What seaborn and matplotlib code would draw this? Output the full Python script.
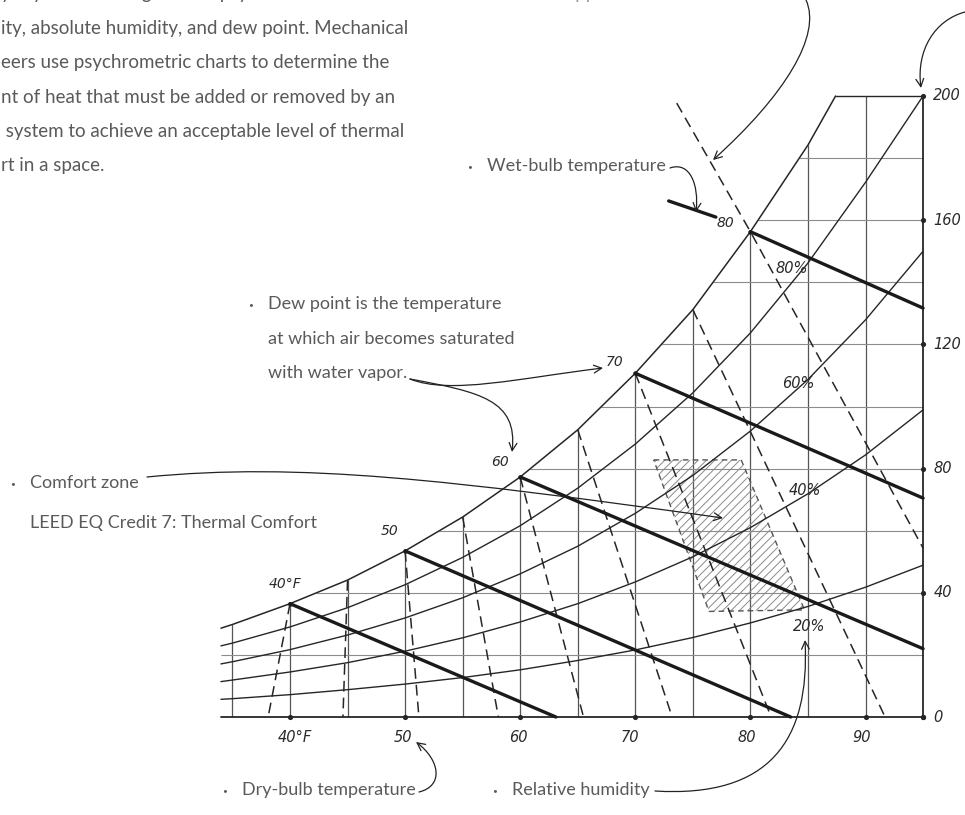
import matplotlib
matplotlib.use("Agg")
import matplotlib.pyplot as plt
from matplotlib import font_manager
from matplotlib.patches import FancyArrowPatch, Polygon
from matplotlib.path import Path
import seaborn as sns
import pandas as pd

# ---------------- data ----------------
db_temps = [34, 35, 40, 45, 50, 55, 60, 65, 70, 75, 80, 85, 90, 95]
sat_temps = [34, 35, 40, 45, 50, 55, 60, 65, 70, 75, 80, 85, 87.4]
sat_w = [28.6, 29.8, 36.5, 44.1, 53.5, 64.4, 77.3, 92.5, 110.7, 131.2, 156.3, 184.2, 200]
rh80 = [22.9, 23.8, 29.0, 35.2, 42.6, 51.4, 61.6, 73.7, 87.9, 104.4, 123.7, 146.2, 172.2, 200]
rh60 = [17.1, 17.8, 21.7, 26.4, 31.9, 38.4, 46.1, 55.0, 65.6, 77.8, 92.1, 108.7, 127.9, 150.0]
rh40 = [11.4, 11.9, 14.5, 17.5, 21.2, 25.5, 30.6, 36.5, 43.5, 51.6, 61.0, 71.9, 84.4, 98.9]
rh20 = [5.7, 5.9, 7.2, 8.8, 10.6, 12.7, 15.2, 18.2, 21.6, 25.6, 30.3, 35.6, 41.8, 48.9]
rh_labels = ["80%", "60%", "40%", "20%"]

# bold wet-bulb lines (start on saturation curve, end on axis)
wb_start_t = [40, 50, 60, 70, 80]
wb_start_w = [36.5, 53.5, 77.3, 110.7, 156.3]
wb_end_t = [63.1, 83.5, 95, 95, 95]
wb_end_w = [0, 0, 22.0, 70.5, 131.7]
wb_labels = ["40°F", "50", "60", "70", "80"]
wb_stub_t = [72.9, 77.0]
wb_stub_w = [166.2, 161.0]

# dashed lines
dash_top_t = [40, 45, 50, 55, 60, 65, 70, 75]
dash_top_w = [36.5, 44.1, 53.5, 64.4, 77.3, 92.5, 110.7, 131.2]
dash_bot_t = [38.1, 44.6, 51.2, 58.1, 65.5, 73.2, 81.8, 91.7]
dash_bot_w = [0, 0, 0, 0, 0, 0, 0, 0]
dash80_t = [73.6, 80, 95]
dash80_w = [197.7, 156.3, 54.4]

# comfort zone
cz_t = [71.6, 79.2, 84.7, 76.4]
cz_w = [82.8, 82.8, 34.5, 34.0]

# grid and ticks
vgrid_t = [35, 40, 45, 50, 55, 60, 65, 70, 75, 80, 85, 90]
hgrid_w = [20, 40, 60, 80, 100, 120, 140, 160, 180]
x_ticks = [40, 50, 60, 70, 80, 90]
x_tick_labels = ["40°F", "50", "60", "70", "80", "90"]
y_ticks = [0, 40, 80, 120, 160, 200]
y_tick_labels = ["0", "40", "80", "120", "160", "200"]
T_MIN, T_MAX, W_TOP = 34, 95, 200

# ---------------- style ----------------
sns.set_theme(style="white")
avail = {f.name for f in font_manager.fontManager.ttflist}
hand = [f for f in ["Lato", "Roboto", "Open Sans"] if f in avail]
plt.rcParams["font.family"] = hand + ["DejaVu Sans"]
plt.rcParams["hatch.linewidth"] = 0.7
plt.rcParams["hatch.color"] = "#8a8a8a"

W_PX, H_PX = 965, 815
fig = plt.figure(figsize=(W_PX / 100, H_PX / 100), dpi=100)
ax = fig.add_axes([0, 0, 1, 1])
PXF = 11.51   # px per degF
PXW = 3.105   # px per grain
ax.set_xlim(40 - 290 / PXF, 40 + (W_PX - 290) / PXF)
ax.set_ylim(-(H_PX - 717) / PXW, 717 / PXW)
ax.axis("off")

INK = "#262626"
GRID = "#8c8c8c"
TXT = "#5a5a5a"

# grid
ax.vlines(vgrid_t, 0, W_TOP, color="#555555", lw=0.9, zorder=1)
ax.hlines(hgrid_w, T_MIN, T_MAX, color=GRID, lw=0.8, zorder=1)
# mask above saturation curve (slightly wider than the chart to hide line caps)
mask_t = [T_MIN - 1] + sat_temps + [T_MAX + 1]
mask_w = [sat_w[0]] + sat_w + [W_TOP]
ax.fill_between(mask_t, mask_w, 260, color="white", lw=0, zorder=2)
# frame lines
ax.plot([T_MIN, T_MAX], [0, 0], color=INK, lw=1.3, zorder=3)
ax.plot([T_MAX, T_MAX], [0, W_TOP], color=INK, lw=1.3, zorder=3)
ax.plot([sat_temps[-1], T_MAX], [W_TOP, W_TOP], color=INK, lw=1.0, zorder=3)

# relative humidity curves
rh_df = pd.concat([
    pd.DataFrame({"t": db_temps, "w": vals, "rh": name})
    for name, vals in zip(rh_labels, [rh80, rh60, rh40, rh20])
])
sns.lineplot(data=rh_df, x="t", y="w", units="rh", estimator=None, color=INK,
             lw=1.0, ax=ax, legend=False, sort=False, zorder=4)
sat_df = pd.DataFrame({"t": sat_temps, "w": sat_w})
sns.lineplot(data=sat_df, x="t", y="w", color=INK, lw=1.1, ax=ax, sort=False, zorder=4)

# comfort zone
cz_xy = list(zip(cz_t, cz_w))
ax.add_patch(Polygon(cz_xy, closed=True, facecolor="none", edgecolor="#8a8a8a",
                     hatch="////", lw=0, zorder=3))
ax.add_patch(Polygon(cz_xy, closed=True, facecolor="none", edgecolor="#555555",
                     lw=1.0, ls=(0, (4, 3)), zorder=3))

# dashed lines
rows = []
for i, (t0, w0, t1, w1) in enumerate(zip(dash_top_t, dash_top_w, dash_bot_t, dash_bot_w)):
    rows += [{"t": t0, "w": w0, "id": i}, {"t": t1, "w": w1, "id": i}]
dash_df = pd.DataFrame(rows)
sns.lineplot(data=dash_df, x="t", y="w", units="id", estimator=None, color=INK, lw=1.1,
             ax=ax, legend=False, sort=False, zorder=5, linestyle=(0, (7, 4)))
sns.lineplot(data=pd.DataFrame({"t": dash80_t, "w": dash80_w}), x="t", y="w", color=INK,
             lw=1.1, ax=ax, sort=False, zorder=5, linestyle=(0, (7, 4)))

# bold wet-bulb lines
rows = []
for i, (t0, w0, t1, w1) in enumerate(zip(wb_start_t, wb_start_w, wb_end_t, wb_end_w)):
    rows += [{"t": t0, "w": w0, "id": i}, {"t": t1, "w": w1, "id": i}]
wb_df = pd.DataFrame(rows)
sns.lineplot(data=wb_df, x="t", y="w", units="id", estimator=None, color="#1a1a1a", lw=2.4,
             ax=ax, legend=False, sort=False, zorder=6)
sns.lineplot(data=pd.DataFrame({"t": wb_stub_t, "w": wb_stub_w}), x="t", y="w",
             color="#1a1a1a", lw=2.4, ax=ax, sort=False, zorder=6)
sns.scatterplot(x=wb_start_t, y=wb_start_w, color="#1a1a1a", s=10, ax=ax, zorder=7, linewidth=0)

# axis dots and labels
sns.scatterplot(x=x_ticks + [T_MAX], y=[0] * (len(x_ticks) + 1), color=INK, s=14, ax=ax,
                zorder=7, linewidth=0)
sns.scatterplot(x=[T_MAX] * len(y_ticks), y=y_ticks, color=INK, s=14, ax=ax, zorder=7, linewidth=0)
num_font = dict(family="DejaVu Sans", style="italic", color="#2a2a2a", fontsize=10.5)
x_lab_dx = [0.4, -0.2, -0.2, -0.5, -0.35, -0.35]
for t, lab, dx in zip(x_ticks, x_tick_labels, x_lab_dx):
    ax.text(t + dx, -6.5, lab, ha="center", va="center", **num_font)
for w, lab in zip(y_ticks, y_tick_labels):
    ax.text(T_MAX + 0.9, w, lab, ha="left", va="center", **num_font)
wb_lab_off = [(-0.4, 4.2), (-0.6, 4.0), (-1.0, 2.5), (-1.0, 1.5), (-1.4, 0.5)]
for t, w, lab, (dx, dy) in zip(wb_start_t, wb_start_w, wb_labels, wb_lab_off):
    ax.text(t + dx, w + dy, lab, ha="right" if lab != "40°F" else "center", va="bottom",
            **{**num_font, "fontsize": 10})
rh_pos = [(83.6, 144.5), (84.2, 107.5), (84.7, 73.0), (85.1, 29.0)]
for (t, w), lab in zip(rh_pos, rh_labels):
    ax.text(t, w, lab, ha="center", va="center", **num_font)

# ---------------- annotations (figure pixel coords) ----------------
def fp(x, y):
    return (x / W_PX, 1 - y / H_PX)

def note(x, y, s, bullet=True, size=13):
    if bullet:
        fig.text(*fp(x - 17, y + 1), "•", fontsize=6, color=TXT, ha="center", va="center")
    fig.text(*fp(x, y), s, fontsize=size, color=TXT, ha="left", va="center")

def arrow(p0, p1, p2, p3, head=True):
    verts = [fp(*p0), fp(*p1), fp(*p2), fp(*p3)]
    path = Path(verts, [Path.MOVETO, Path.CURVE4, Path.CURVE4, Path.CURVE4])
    a = FancyArrowPatch(path=path, arrowstyle="->" if head else "-", mutation_scale=14,
                        lw=0.9, color="#222222", transform=fig.transFigure)
    fig.add_artist(a)

# paragraph at top-left (cut by the figure edge, as in the reference)
para = ["y dry-bulb readings with a psychrometer to",
        "ity, absolute humidity, and dew point. Mechanical",
        "eers use psychrometric charts to determine the",
        "nt of heat that must be added or removed by an",
        " system to achieve an acceptable level of thermal",
        "rt in a space."]
for i, line in enumerate(para):
    fig.text(*fp(1, -6 + 34.4 * i), line, fontsize=13.5, color=TXT, ha="left", va="center")
fig.text(*fp(512, -6), "at the upper limit of the comfort zone", fontsize=13.5,
         color="#9a9a9a", ha="left", va="center")

note(487, 166, "Wet-bulb temperature")
note(268, 304, "Dew point is the temperature")
note(268, 339, "at which air becomes saturated", bullet=False)
note(268, 373, "with water vapor.", bullet=False)
note(30, 483, "Comfort zone")
note(30, 523, "LEED EQ Credit 7: Thermal Comfort", bullet=False)
note(242, 790, "Dry-bulb temperature")
note(512, 790, "Relative humidity")

arrow((806, 0), (822, 35), (785, 95), (713, 160))
arrow((965, 12), (935, 20), (916, 50), (921, 88))
arrow((670, 168), (690, 161), (699, 185), (696, 212))
arrow((410, 379), (450, 395), (520, 378), (603, 368))
arrow((410, 379), (480, 392), (518, 400), (512, 452))
arrow((147, 477), (300, 462), (450, 480), (723, 518))
arrow((419, 792), (444, 786), (440, 760), (416, 742))
arrow((655, 791), (770, 798), (810, 740), (805, 640))

fig.savefig("out.png", dpi=100)
